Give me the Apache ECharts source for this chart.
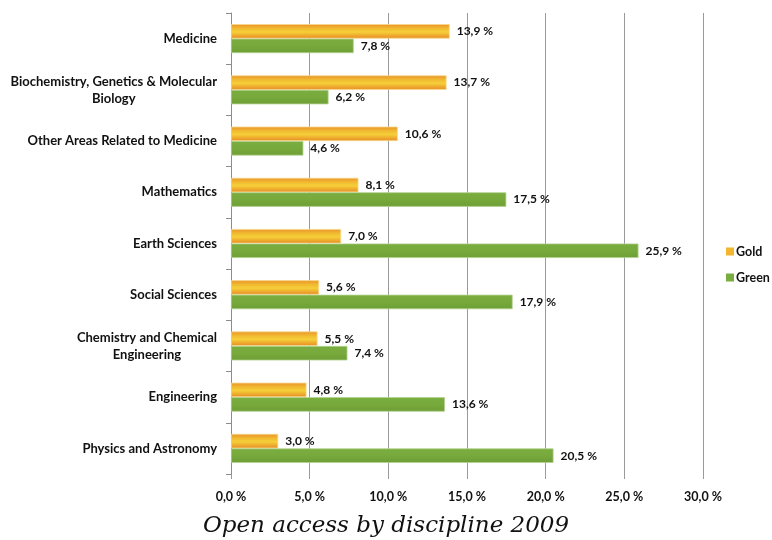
<!DOCTYPE html>
<html>
<head>
<meta charset="utf-8">
<script src="https://cdn.jsdelivr.net/npm/echarts@6/dist/echarts.min.js"></script>
<style>
  html, body { margin: 0; padding: 0; background: #fff; }
  #chart { width: 772px; height: 540px; }
</style>
</head>
<body>
<div id="chart"></div>
<script>
// Disciplines, top to bottom
const categories = [
  'Medicine',
  'Biochemistry, Genetics & Molecular\nBiology',
  'Other Areas Related to Medicine',
  'Mathematics',
  'Earth Sciences',
  'Social Sciences',
  'Chemistry and Chemical\nEngineering',
  'Engineering',
  'Physics and Astronomy'
];
// Share of open access articles (%)
const goldValues  = [13.9, 13.7, 10.6, 8.1, 7.0, 5.6, 5.5, 4.8, 3.0];
const greenValues = [7.8, 6.2, 4.6, 17.5, 25.9, 17.9, 7.4, 13.6, 20.5];
const xTicks = { min: 0, max: 30, interval: 5 };
const chartTitle = 'Open access by discipline 2009';

const pct = v => v.toFixed(1).replace('.', ',') + ' %';
const labelFont = 'Lato, "Open Sans", sans-serif';

const goldFill = new echarts.graphic.LinearGradient(0, 0, 0, 1, [
  { offset: 0, color: '#e9922a' },
  { offset: 0.3, color: '#f1ba31' },
  { offset: 0.55, color: '#f5cf39' },
  { offset: 0.8, color: '#eea82d' },
  { offset: 1, color: '#e48a25' }
]);
const greenFill = new echarts.graphic.LinearGradient(0, 0, 0, 1, [
  { offset: 0, color: '#7aad3f' },
  { offset: 0.5, color: '#77a93c' },
  { offset: 1, color: '#6e9e36' }
]);

const valueLabel = {
  show: true,
  position: 'right',
  distance: 7,
  fontFamily: labelFont,
  fontWeight: 'bold',
  fontSize: 12,
  color: '#111',
  formatter: p => pct(p.value)
};

const chart = echarts.init(document.getElementById('chart'), null, { renderer: 'canvas' });
chart.setOption({
  animation: false,
  backgroundColor: '#fff',
  title: {
    text: chartTitle,
    left: 'center',
    bottom: -3,
    textStyle: {
      fontFamily: '"DejaVu Serif", serif',
      fontStyle: 'italic',
      fontWeight: 'normal',
      fontSize: 23,
      color: '#111'
    }
  },
  legend: {
    orient: 'vertical',
    left: 721,
    top: 240,
    itemWidth: 8,
    itemHeight: 8,
    itemGap: 13,
    icon: 'rect',
    textStyle: { fontFamily: labelFont, fontWeight: 'bold', fontSize: 12.5, color: '#111', padding: [0, 0, 0, -3] },
    data: [
      { name: 'Gold', itemStyle: { color: '#f2b630', borderWidth: 0 } },
      { name: 'Green', itemStyle: { color: '#7aad3f', borderWidth: 0 } }
    ]
  },
  grid: { left: 231, right: 69, top: 13, bottom: 66, containLabel: false },
  xAxis: {
    type: 'value',
    min: xTicks.min,
    max: xTicks.max,
    interval: xTicks.interval,
    axisLine: { show: false },
    axisTick: { show: true, length: 5, lineStyle: { color: '#9a9a9a' } },
    splitLine: { show: true, lineStyle: { color: '#9a9a9a', width: 1 } },
    axisLabel: {
      margin: 16,
      fontFamily: labelFont,
      fontWeight: 'bold',
      fontSize: 12.5,
      color: '#111',
      formatter: v => pct(v)
    }
  },
  yAxis: {
    type: 'category',
    inverse: true,
    data: categories,
    boundaryGap: true,
    axisLine: { show: true, lineStyle: { color: '#8c8c8c' } },
    axisTick: { show: true, length: 5, inside: false, lineStyle: { color: '#8c8c8c' } },
    axisLabel: {
      margin: 14,
      fontFamily: labelFont,
      fontWeight: 'bold',
      fontSize: 13,
      color: '#111',
      lineHeight: 17,
      formatter: v => v.split('\n').map(s => '{c|' + s + '}').join('\n'),
      rich: {
        c: {
          align: 'center',
          fontFamily: labelFont,
          fontWeight: 'bold',
          fontSize: 13,
          color: '#111',
          lineHeight: 17
        }
      }
    }
  },
  series: [
    {
      name: 'Gold',
      type: 'bar',
      data: goldValues,
      barWidth: 14.5,
      barGap: '0%',
      itemStyle: { color: goldFill, borderColor: '#f7d98a', borderWidth: 0.8 },
      label: valueLabel
    },
    {
      name: 'Green',
      type: 'bar',
      data: greenValues,
      barWidth: 14.5,
      barGap: '0%',
      itemStyle: { color: greenFill, borderColor: '#b3d28e', borderWidth: 0.8 },
      label: valueLabel
    }
  ]
});
</script>
</body>
</html>
